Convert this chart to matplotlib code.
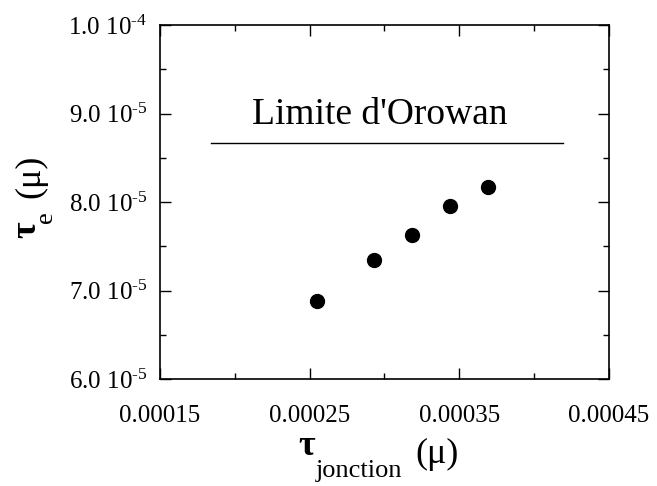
import matplotlib
matplotlib.use("Agg")
import matplotlib.pyplot as plt
from matplotlib.ticker import MultipleLocator, FixedLocator

plt.rcParams['font.family'] = ['Liberation Serif', 'DejaVu Serif']
plt.rcParams['mathtext.fontset'] = 'custom'
plt.rcParams['mathtext.rm'] = 'Liberation Serif'
plt.rcParams['mathtext.it'] = 'Liberation Serif:italic'
plt.rcParams['mathtext.bf'] = 'Liberation Serif:bold'

# junction stress vs. effective stress (units of mu)
tau_jonction = [0.0002551, 0.0002929, 0.0003185, 0.0003440, 0.0003693]
tau_e = [6.88e-5, 7.34e-5, 7.63e-5, 7.96e-5, 8.17e-5]

# Orowan limit segment
orowan_x = [0.000184, 0.000419]
orowan_y = 8.67e-5
orowan_label = "Limite d'Orowan"

x_ticks = [0.00015, 0.00025, 0.00035, 0.00045]
x_minor = [0.0002, 0.0003, 0.0004]
x_tick_labels = ['0.00015', '0.00025', '0.00035', '0.00045']
y_ticks = [6.0e-5, 7.0e-5, 8.0e-5, 9.0e-5, 1.0e-4]
y_tick_labels = [r'6.0 10$^{\text{-5}}$', r'7.0 10$^{\text{-5}}$', r'8.0 10$^{\text{-5}}$',
                 r'9.0 10$^{\text{-5}}$', r'1.0 10$^{\text{-4}}$']

W, H = 657, 486
fig = plt.figure(figsize=(W / 100, H / 100), dpi=100)
ax = fig.add_axes([160 / W, 1 - 379 / H, 449 / W, 354 / H])

ax.plot(tau_jonction, tau_e, 'o', color='black', markersize=10, zorder=3)
ax.plot(orowan_x, [orowan_y, orowan_y], color='black', linewidth=1.0)
ax.text(0.0002967, 8.88e-5, orowan_label, fontsize=27, ha='center', va='baseline')

ax.set_xlim(0.00015, 0.00045)
ax.set_ylim(6.0e-5, 1.0e-4)

ax.xaxis.set_major_locator(FixedLocator(x_ticks))
ax.xaxis.set_minor_locator(FixedLocator(x_minor))
ax.set_xticklabels(x_tick_labels)
ax.yaxis.set_major_locator(FixedLocator(y_ticks))
ax.yaxis.set_minor_locator(MultipleLocator(0.5e-5))
ax.set_yticklabels(y_tick_labels)

ax.tick_params(which='both', direction='in', top=True, right=True, width=1.0)
ax.tick_params(axis='x', which='major', length=8, pad=19, labelsize=18)
ax.tick_params(axis='y', which='major', length=8, pad=9, labelsize=18)
ax.tick_params(which='minor', length=4.5)
for s in ax.spines.values():
    s.set_linewidth(1.2)


def px(x, y):
    """Pixel position (from top-left) to figure fraction."""
    return x / W, 1 - y / H


# x-axis title: bold tau with a dropped subscript, then the unit
fig.text(*px(298, 455), 'τ', fontsize=26, fontweight='bold', ha='left', va='baseline')
fig.text(*px(316, 477), 'jonction', fontsize=19, ha='left', va='baseline')
fig.text(*px(415, 463), '(μ)', fontsize=26, ha='left', va='baseline')

# y-axis title, rotated
rot = dict(rotation=90, rotation_mode='anchor', ha='left', va='baseline')
fig.text(*px(35, 238), 'τ', fontsize=26, fontweight='bold', **rot)
fig.text(*px(52, 223), 'e', fontsize=19, **rot)
fig.text(*px(39, 198), '(μ)', fontsize=26, **rot)

fig.savefig('out.png', dpi=100)
